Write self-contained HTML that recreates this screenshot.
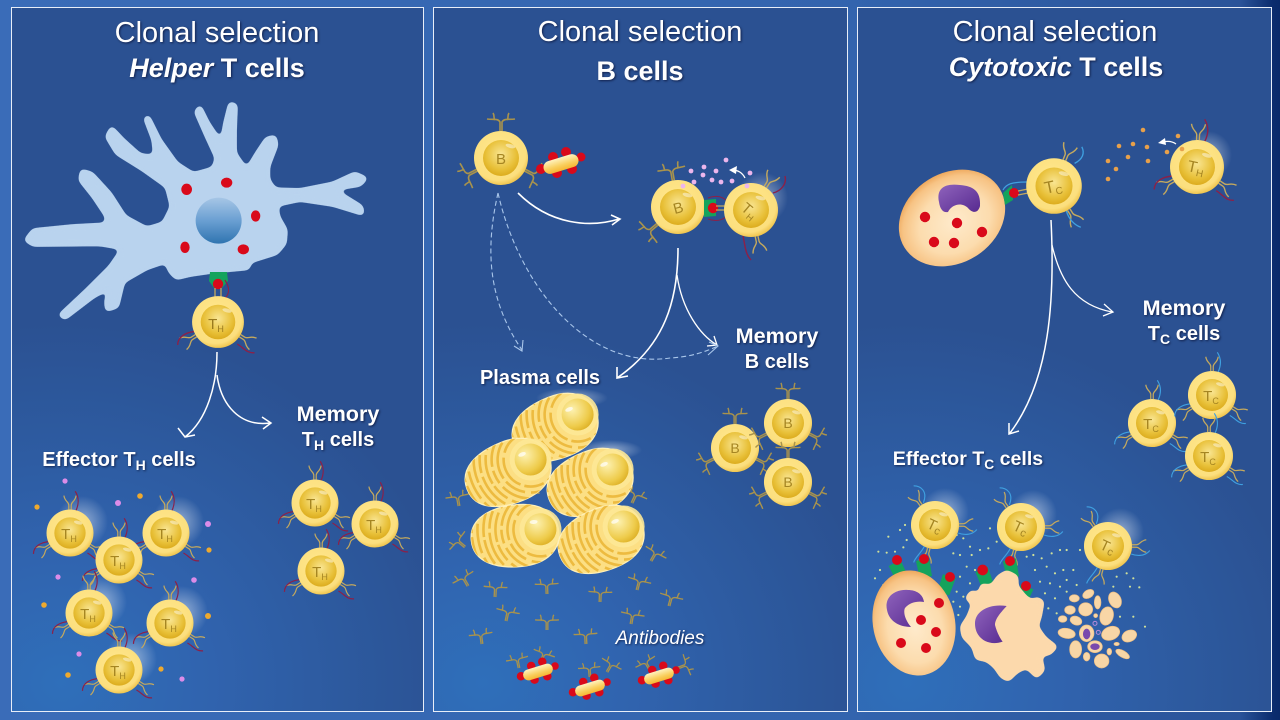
<!DOCTYPE html>
<html><head><meta charset="utf-8"><style>
html,body{margin:0;padding:0}
body{width:1280px;height:720px;position:relative;overflow:hidden;background:linear-gradient(to right,#3a6cb8 0,#3364ae 850px,#2a5399 1240px,#0b2c6e 1273px,#0a2a6a 1280px);font-family:"Liberation Sans",sans-serif;color:#fff}
.p{position:absolute;top:7px;height:705px;box-sizing:border-box;border:1px solid #e8eef8;background:radial-gradient(ellipse 400px 360px at 12% 96%,#2f6fba 0,#3063ae 38%,#2d5a9f 70%,#2b5192 100%)}
svg{position:absolute;left:0;top:0}
.t{position:absolute;white-space:nowrap;transform:translateX(-50%);text-shadow:1px 1px 2px rgba(0,0,30,.6);line-height:1}
.h{font-size:29px}
.b{font-size:27px;font-weight:bold}
.l{font-size:20px;font-weight:bold}
.m{font-size:21.6px;font-weight:bold}
sub{font-size:.7em;line-height:0;vertical-align:-.3em}
</style></head><body>
<div class="p" style="left:11px;width:413px"></div>
<div class="p" style="left:433px;width:415px"></div>
<div class="p" style="left:857px;width:415px"></div>
<svg width="1280" height="720" viewBox="0 0 1280 720">
<defs>
<filter id="goo" x="-5%" y="-5%" width="110%" height="110%" color-interpolation-filters="sRGB"><feGaussianBlur stdDeviation="8"/><feComponentTransfer><feFuncA type="linear" slope="12" intercept="-5"/></feComponentTransfer></filter>
<radialGradient id="go" cx=".45" cy=".4" r=".6"><stop offset="0" stop-color="#ffe88f"/><stop offset=".85" stop-color="#fcdf7e"/><stop offset="1" stop-color="#f0c650"/></radialGradient>
<radialGradient id="gi" cx=".5" cy=".4" r=".6"><stop offset="0" stop-color="#f9e592"/><stop offset=".7" stop-color="#e8c038"/><stop offset="1" stop-color="#dcac1e"/></radialGradient>
<radialGradient id="gn" cx=".4" cy=".3" r=".75"><stop offset="0" stop-color="#fdf1b0"/><stop offset=".7" stop-color="#eecb4a"/><stop offset="1" stop-color="#dcae22"/></radialGradient>
<radialGradient id="gl"><stop offset="0" stop-color="#fff" stop-opacity=".5"/><stop offset="1" stop-color="#fff" stop-opacity="0"/></radialGradient>
<linearGradient id="nu" x1="0" y1="0" x2="0" y2="1"><stop offset="0" stop-color="#a6c6e6"/><stop offset=".5" stop-color="#6a9fd2"/><stop offset="1" stop-color="#2f74b0"/></linearGradient>
<radialGradient id="tg" cx=".5" cy=".55" r=".55"><stop offset="0" stop-color="#feeacb"/><stop offset=".6" stop-color="#fcdcae"/><stop offset=".88" stop-color="#f7c384"/><stop offset="1" stop-color="#eea85c"/></radialGradient>
<linearGradient id="pu" x1="0" y1="0" x2="1" y2="1"><stop offset="0" stop-color="#8f63bc"/><stop offset="1" stop-color="#572a90"/></linearGradient>
<linearGradient id="cap" x1="0" y1="0" x2="0" y2="1"><stop offset="0" stop-color="#fff3c0"/><stop offset=".6" stop-color="#f9cf5e"/><stop offset="1" stop-color="#f7b733"/></linearGradient>
<clipPath id="plc"><path d="M-44 0C-44-22-22-31 4-31C30-31 44-18 44 0C44 18 30 31 4 31C-22 31-44 22-44 0Z"/></clipPath>

<g id="cell"><circle r="27" fill="url(#go)"/><circle r="18" fill="url(#gi)"/><ellipse cx="6" cy="-14" rx="5" ry="2" fill="#fff" opacity=".45" transform="rotate(15)"/></g>
<path id="r" d="M-1.4 0V-5C-1.4-9-6-9-7-16M1.4 0V-5C1.4-9 6-9 7-16" fill="none" stroke="#c4a95e" stroke-width="1.4"/>
<path id="ab" d="M-1 0V-9C-3-13-8-11-14-12M-6-11C-8-13-6-15-8-18M1 0V-9C3-13 8-11 14-12M6-11C8-13 6-15 8-18" fill="none" stroke="#a9934c" stroke-width="1.6"/>
<g id="th">
<use href="#r" transform="rotate(0) translate(0,-27)"/><use href="#r" transform="rotate(-122) translate(0,-27)"/><use href="#r" transform="rotate(122) translate(0,-27)"/>
<path d="M7-26C10-33 11-40 6-48M-25 10C-33 11-42 15-42 24M20 23C26 26 30 33 38 32" fill="none" stroke="#8c2048" stroke-width="1.4"/>
<use href="#cell"/></g>
<g id="tm">
<use href="#r" transform="rotate(0) translate(0,-27)"/><use href="#r" transform="rotate(-122) translate(0,-27)"/><use href="#r" transform="rotate(122) translate(0,-27)"/>
<path d="M7-26C10-33 11-40 6-48M-25 10C-33 11-42 15-42 24M20 23C26 26 30 33 38 32" fill="none" stroke="#3fa0e0" stroke-width="1.3"/>
<use href="#cell"/></g>
<g id="tc">
<use href="#r" transform="rotate(-35) translate(0,-27)"/><use href="#r" transform="rotate(90) translate(0,-27)"/><use href="#r" transform="rotate(195) translate(0,-27)"/>
<path d="M-13-25C-8-38-16-44-24-44M26 9C34 12 42 11 47 5M-12 24C-16 32-22 36-24 42" fill="none" stroke="#3fa0e0" stroke-width="1.3"/>
<use href="#cell"/></g>
<g id="b"><use href="#ab" transform="rotate(0) translate(0,-27)"/><use href="#ab" transform="rotate(-117) translate(0,-27)"/><use href="#ab" transform="rotate(117) translate(0,-27)"/><use href="#cell"/></g>
<g id="bac">
<g fill="#d9091a"><circle cx="-8" cy="-7" r="5"/><circle cx="5" cy="-12" r="5"/><circle cx="20" cy="-7" r="4.5"/><circle cx="11" cy="5" r="5"/><circle cx="-4" cy="9" r="5"/><circle cx="-20" cy="5" r="5"/></g>
<rect x="-18" y="-6.5" width="36" height="13" rx="6.5" fill="url(#cap)" transform="rotate(-17)"/></g>
<g id="pl">
<path d="M-44 0C-44-22-22-31 4-31C30-31 44-18 44 0C44 18 30 31 4 31C-22 31-44 22-44 0Z" fill="#fcdf84" stroke="#fff0b8" stroke-width="1.2"/>
<g fill="none" stroke="#edbb40" stroke-width="2.6" clip-path="url(#plc)">
<circle cx="26" cy="-4" r="27" stroke-dasharray="34 5 20 4"/>
<circle cx="26" cy="-4" r="33" stroke-dasharray="22 4 38 6"/>
<circle cx="26" cy="-4" r="39" stroke-dasharray="42 5 14 4"/>
<circle cx="26" cy="-4" r="45" stroke-dasharray="18 3 30 5"/>
<circle cx="26" cy="-4" r="51" stroke-dasharray="36 4 18 5"/>
<circle cx="26" cy="-4" r="57" stroke-dasharray="26 4 26 3"/>
<circle cx="26" cy="-4" r="63" stroke-dasharray="30 5 20 5"/>
<circle cx="26" cy="-4" r="69" stroke-dasharray="16 5 30 4"/>
</g>
<circle cx="26" cy="-4" r="21" fill="#fde896" opacity=".9"/><circle cx="26" cy="-4" r="16" fill="url(#gn)"/>
<ellipse cx="20" cy="-12" rx="4" ry="2" fill="#fff" opacity=".7"/></g>
<path id="g" d="M-7-6L6-9L9 9L-3 13Z" fill="#14a35c"/>
</defs>

<!-- PANEL 1 -->
<g transform="translate(0,90) scale(.3333)">
<polygon filter="url(#goo)" points="320,140 335,113 370,150 420,195 465,200 460,150 435,85 445,80 480,150 530,220 580,252 640,235 650,205 620,140 587,65 600,50 625,100 665,160 675,100 690,40 708,45 705,120 705,190 740,240 770,190 800,145 825,140 830,165 805,230 805,270 825,298 900,300 1000,280 1065,250 1098,265 1080,285 1015,295 1020,310 1085,350 1088,372 1000,345 900,330 830,345 835,380 858,420 855,460 830,490 750,515 745,535 640,545 570,555 530,565 510,545 498,515 440,535 370,575 352,650 320,660 318,630 335,590 280,620 195,685 180,675 260,600 330,530 368,475 300,463 100,465 77,450 100,420 220,408 320,403 320,380 280,320 240,270 245,242 275,250 330,310 375,380 440,415 490,400 515,350 500,290 430,240 350,190" fill="#b9d3ee" stroke="#b9d3ee" stroke-width="10" stroke-linejoin="round"/>
<circle cx="656" cy="392" r="69" fill="url(#nu)"/>
<g fill="#d9091a"><ellipse cx="560" cy="298" rx="16" ry="17"/><ellipse cx="680" cy="278" rx="17" ry="15"/><ellipse cx="767" cy="378" rx="14" ry="17"/><ellipse cx="555" cy="472" rx="14" ry="17"/><ellipse cx="730" cy="478" rx="17" ry="15"/></g>
</g>
<path d="M210 272H227L228 281L222 288L214 288L209 281Z" fill="#14a35c"/>
<circle cx="218" cy="284" r="5.2" fill="#d9091a"/>
<path d="M215 288V297M221 288V297" stroke="#c4a95e" stroke-width="1.3"/>
<path d="M225 280C230 288 230 294 224 299" fill="none" stroke="#8c2048" stroke-width="1.2"/>
<g transform="translate(218,322) scale(.96)"><use href="#r" transform="rotate(-122) translate(0,-27)"/><use href="#r" transform="rotate(122) translate(0,-27)"/>
<path d="M-25 10C-33 11-42 15-42 24M20 23C26 26 30 33 38 32" fill="none" stroke="#8c2048" stroke-width="1.4"/><use href="#cell"/></g>
<text x="216" y="329" font-size="15" fill="#9a7a1e" text-anchor="middle" font-family="Liberation Sans">T<tspan dy="3" font-size="9">H</tspan></text>

<g fill="none" stroke="#fff" stroke-width="1.5">
<path d="M217 352C217 385 207 420 185 437M178 428L185 437L195 435"/>
<path d="M217 375C221 405 240 427 270 423M262 417L271 423L263 429"/>
</g>

<!-- effector TH -->
<g fill="url(#gl)"><circle cx="82" cy="522" r="26"/><circle cx="178" cy="522" r="26"/><circle cx="101" cy="602" r="26"/><circle cx="182" cy="612" r="26"/><circle cx="131" cy="659" r="26"/></g>
<use href="#th" transform="translate(70,533) scale(.87)"/>
<use href="#th" transform="translate(166,533) scale(.87)"/>
<use href="#th" transform="translate(119,560) scale(.87)"/>
<use href="#th" transform="translate(89,613) scale(.87)"/>
<use href="#th" transform="translate(170,623) scale(.87)"/>
<use href="#th" transform="translate(119,670) scale(.87)"/>
<use href="#th" transform="translate(315,503) scale(.87)"/>
<use href="#th" transform="translate(375,524) scale(.87)"/>
<use href="#th" transform="translate(321,571) scale(.87)"/>
<g font-size="15" fill="#a58522" text-anchor="middle" font-family="Liberation Sans">
<text x="69" y="539">T<tspan dy="3" font-size="9">H</tspan></text>
<text x="165" y="539">T<tspan dy="3" font-size="9">H</tspan></text>
<text x="118" y="566">T<tspan dy="3" font-size="9">H</tspan></text>
<text x="88" y="619">T<tspan dy="3" font-size="9">H</tspan></text>
<text x="169" y="629">T<tspan dy="3" font-size="9">H</tspan></text>
<text x="118" y="676">T<tspan dy="3" font-size="9">H</tspan></text>
<text x="314" y="509">T<tspan dy="3" font-size="9">H</tspan></text>
<text x="374" y="530">T<tspan dy="3" font-size="9">H</tspan></text>
<text x="320" y="577">T<tspan dy="3" font-size="9">H</tspan></text>
</g>
<g fill="#dc8ce8"><circle cx="65" cy="481" r="2.6"/><circle cx="118" cy="503" r="3"/><circle cx="208" cy="524" r="3"/><circle cx="58" cy="577" r="2.6"/><circle cx="194" cy="580" r="2.8"/><circle cx="79" cy="654" r="2.6"/><circle cx="182" cy="679" r="2.6"/></g>
<g fill="#eea92e"><circle cx="37" cy="507" r="2.6"/><circle cx="140" cy="496" r="2.8"/><circle cx="209" cy="550" r="2.6"/><circle cx="44" cy="605" r="2.8"/><circle cx="208" cy="616" r="3"/><circle cx="68" cy="675" r="2.8"/><circle cx="161" cy="669" r="2.6"/></g>

<!-- PANEL 2 -->
<use href="#b" transform="translate(501,158)"/>
<use href="#bac" transform="translate(561,164)"/>
<g transform="translate(678,207)"><use href="#ab" transform="rotate(-10) translate(0,-27)"/><use href="#ab" transform="rotate(-130) translate(0,-27)"/><use href="#cell"/></g>
<path d="M704 200L716 199L716 216L704 217Z" fill="#14a35c"/>
<path d="M708 198C716 195 722 196 727 201M708 219C716 222 722 220 726 217" fill="none" stroke="#8c2048" stroke-width="1"/>
<circle cx="713" cy="208" r="5.2" fill="#d9091a"/>
<path d="M716 206H726M716 210H726" stroke="#c4a95e" stroke-width="1.3"/>
<circle cx="762" cy="198" r="26" fill="url(#gl)"/>
<g transform="translate(751,210)"><use href="#r" transform="rotate(32) translate(0,-27)"/><use href="#r" transform="rotate(168) translate(0,-27)"/>
<path d="M22-17C30-19 36-26 34-34M-8 26C-6 34-6 44 0 50" fill="none" stroke="#8c2048" stroke-width="1.4"/><use href="#cell"/></g>
<text x="678" y="213" font-size="15" fill="#a58522" text-anchor="middle" transform="rotate(-15 678 207)" font-family="Liberation Sans">B</text>
<text x="750" y="216" font-size="15" fill="#a58522" text-anchor="middle" transform="rotate(40 750 210)" font-family="Liberation Sans">T<tspan dy="3" font-size="9">H</tspan></text>
<text x="501" y="164" font-size="15" fill="#a58522" text-anchor="middle" font-family="Liberation Sans">B</text>
<g fill="#ecb6ec"><circle cx="683" cy="186" r="2.4"/><circle cx="694" cy="182" r="2.4"/><circle cx="691" cy="171" r="2.4"/><circle cx="704" cy="167" r="2.4"/><circle cx="703" cy="175" r="2.4"/><circle cx="716" cy="171" r="2.4"/><circle cx="712" cy="180" r="2.4"/><circle cx="721" cy="182" r="2.4"/><circle cx="732" cy="181" r="2.4"/><circle cx="726" cy="160" r="2.4"/><circle cx="750" cy="173" r="2.4"/><circle cx="747" cy="186" r="2.4"/></g>
<path d="M745 178C742 172 737 170 732 170" fill="none" stroke="#fff" stroke-width="1.3"/><path d="M729 170L737 166L736 174Z" fill="#fff"/>
<g fill="none" stroke="#fff" stroke-width="1.6">
<path d="M518 193C550 225 590 228 619 219M611 215L620 219L612 225"/>
<path d="M678 248C678 300 665 345 617 378M617 367L617 378L628 376"/>
<path d="M677 275C682 310 700 335 717 345M714 336L717 345L707 346" stroke-width="1.3"/>
</g>
<g fill="none" stroke="#a9c6ea" stroke-width="1.1">
<path d="M498 193C485 250 488 300 522 350" stroke-dasharray="5 3"/><path d="M523 340L522 351L514 346"/>
<path d="M498 193C520 290 590 370 670 358C690 357 705 352 718 346" stroke-dasharray="5 3"/><path d="M708 355L718 346L709 342"/>
</g>

<!-- plasma -->
<ellipse cx="572" cy="398" rx="36" ry="10" fill="url(#gl)"/>
<ellipse cx="610" cy="450" rx="32" ry="10" fill="url(#gl)"/>
<use href="#ab" transform="translate(538,494) rotate(-5) scale(.85)"/>
<use href="#ab" transform="translate(459,506) rotate(-10) scale(.85)"/>
<use href="#ab" transform="translate(632,503) rotate(25) scale(.85)"/>
<use href="#pl" transform="translate(555,428) rotate(-22)"/>
<use href="#pl" transform="translate(508,473) rotate(-22)"/>
<use href="#pl" transform="translate(590,483) rotate(-22)"/>
<use href="#pl" transform="translate(515,536) rotate(-6)"/>
<use href="#pl" transform="translate(601,540) rotate(-22)"/>
<g>
<use href="#ab" transform="translate(465,547) rotate(-50) scale(.85)"/>
<use href="#ab" transform="translate(651,561) rotate(30) scale(.85)"/>
<use href="#ab" transform="translate(468,586) rotate(-30) scale(.85)"/>
<use href="#ab" transform="translate(495,597) rotate(3) scale(.85)"/>
<use href="#ab" transform="translate(547,594) rotate(-2) scale(.85)"/>
<use href="#ab" transform="translate(600,602) rotate(2) scale(.85)"/>
<use href="#ab" transform="translate(637,590) rotate(15) scale(.85)"/>
<use href="#ab" transform="translate(669,606) rotate(15) scale(.85)"/>
<use href="#ab" transform="translate(506,621) rotate(12) scale(.85)"/>
<use href="#ab" transform="translate(547,630) rotate(0) scale(.85)"/>
<use href="#ab" transform="translate(631,624) rotate(10) scale(.85)"/>
<use href="#ab" transform="translate(482,644) rotate(-8) scale(.85)"/>
<use href="#ab" transform="translate(586,644) rotate(-3) scale(.85)"/>
<use href="#ab" transform="translate(519,668) rotate(-12) scale(.8)"/>
<use href="#ab" transform="translate(541,662) rotate(20) scale(.8)"/>
<use href="#ab" transform="translate(590,677) rotate(-5) scale(.8)"/>
<use href="#ab" transform="translate(607,672) rotate(30) scale(.8)"/>
<use href="#ab" transform="translate(650,670) rotate(-30) scale(.8)"/>
<use href="#ab" transform="translate(678,668) rotate(70) scale(.8)"/>
</g>
<use href="#bac" transform="translate(538,672) scale(.85)"/>
<use href="#bac" transform="translate(590,688) scale(.85)"/>
<use href="#bac" transform="translate(659,676) scale(.85)"/>

<!-- memory B -->
<use href="#b" transform="translate(735,448) scale(.89)"/>
<use href="#b" transform="translate(788,423) scale(.89)"/>
<use href="#b" transform="translate(788,482) scale(.89)"/>
<g font-size="14" fill="#a58522" text-anchor="middle" font-family="Liberation Sans">
<text x="735" y="453">B</text><text x="788" y="428">B</text><text x="788" y="487">B</text></g>

<!-- PANEL 3 -->
<g transform="rotate(-32 952 218)"><ellipse cx="952" cy="218" rx="56" ry="45" fill="url(#tg)"/></g>
<path d="M939 202C936 188 945 183 960 185C973 186 981 191 980 206C978 214 972 213 968 208C962 202 952 204 948 212C943 213 940 209 939 202Z" fill="url(#pu)"/>
<g fill="#d9091a"><circle cx="925" cy="217" r="5.2"/><circle cx="957" cy="223" r="5.2"/><circle cx="982" cy="232" r="5.2"/><circle cx="934" cy="242" r="5.2"/><circle cx="954" cy="243" r="5.2"/></g>
<path d="M1003 193L1012 185L1013 200L1005 205Z" fill="#14a35c"/>
<path d="M1003 190C1006 184 1012 182 1027 182" fill="none" stroke="#3fa0e0" stroke-width="1.2"/>
<circle cx="1014" cy="193" r="5" fill="#d9091a"/>
<path d="M1018 191L1028 189M1018 195L1028 193" stroke="#c4a95e" stroke-width="1.3"/>
<g transform="translate(1054,186) scale(1.03)"><use href="#r" transform="rotate(22) translate(0,-27)"/><use href="#r" transform="rotate(148) translate(0,-27)"/>
<path d="M20-22C28-26 30-32 27-38M12 24C14 32 20 38 26 40" fill="none" stroke="#3fa0e0" stroke-width="1.3"/><use href="#cell"/></g>
<text x="1053" y="192" font-size="17" fill="#a58522" text-anchor="middle" transform="rotate(-12 1054 186)" font-family="Liberation Sans">T<tspan dy="3" font-size="10">C</tspan></text>
<circle cx="1208" cy="155" r="24" fill="url(#gl)"/>
<use href="#th" transform="translate(1197,167) rotate(2)"/>
<text x="1196" y="173" font-size="16" fill="#a58522" text-anchor="middle" transform="rotate(12 1197 167)" font-family="Liberation Sans">T<tspan dy="3" font-size="10">H</tspan></text>
<g fill="#e8a04a"><circle cx="1143" cy="130" r="2.3"/><circle cx="1178" cy="136" r="2.3"/><circle cx="1119" cy="146" r="2.3"/><circle cx="1133" cy="144" r="2.3"/><circle cx="1147" cy="147" r="2.3"/><circle cx="1167" cy="152" r="2.3"/><circle cx="1182" cy="149" r="2.3"/><circle cx="1128" cy="157" r="2.3"/><circle cx="1148" cy="161" r="2.3"/><circle cx="1108" cy="161" r="2.3"/><circle cx="1116" cy="169" r="2.3"/><circle cx="1108" cy="179" r="2.3"/></g>
<path d="M1176 144C1172 141 1167 141 1163 142" fill="none" stroke="#fff" stroke-width="1.2"/><path d="M1158 143L1165 138L1166 145Z" fill="#fff"/>
<g fill="none" stroke="#fff" stroke-width="1.5">
<path d="M1051 220C1055 300 1050 380 1010 433M1009 423L1009 434L1019 431"/>
<path d="M1052 245C1060 280 1075 305 1112 312M1104 304L1113 312L1103 316" stroke-width="1.3"/>
</g>
<use href="#tm" transform="translate(1152,423) scale(.89)"/>
<use href="#tm" transform="translate(1212,395) scale(.89)"/>
<use href="#tm" transform="translate(1209,456) scale(.89)"/>
<g font-size="15" fill="#a58522" text-anchor="middle" font-family="Liberation Sans">
<text x="1151" y="429">T<tspan dy="3" font-size="9">C</tspan></text>
<text x="1211" y="401">T<tspan dy="3" font-size="9">C</tspan></text>
<text x="1208" y="462">T<tspan dy="3" font-size="9">C</tspan></text></g>

<!-- effector Tc -->
<g fill="url(#gl)"><circle cx="945" cy="512" r="24"/><circle cx="1033" cy="514" r="24"/><circle cx="1120" cy="532" r="24"/></g>
<path fill="none" stroke="#cfe09a" stroke-width="6.5" stroke-linecap="round" transform="translate(860,470) scale(.3333)" d="M135 165h.1M120 180h.1M85 200h.1M140 210h.1M55 245h.1M80 248h.1M105 245h.1M130 232h.1M60 300h.1M45 325h.1M70 345h.1M290 195h.1M310 205h.1M330 230h.1M280 250h.1M300 255h.1M335 255h.1M360 240h.1M385 235h.1M410 215h.1M390 175h.1M320 290h.1M345 300h.1M300 320h.1M330 340h.1M290 365h.1M310 380h.1M280 395h.1M300 410h.1M295 435h.1M520 255h.1M545 265h.1M575 250h.1M600 240h.1M525 300h.1M560 290h.1M585 310h.1M610 300h.1M640 300h.1M620 240h.1M660 240h.1M540 335h.1M570 340h.1M600 350h.1M555 370h.1M585 385h.1M620 330h.1M650 345h.1M565 415h.1M590 430h.1M770 320h.1M800 310h.1M820 325h.1M760 350h.1M810 350h.1M838 352h.1M620 365h.1M780 440h.1M820 440h.1M855 470h.1M445 205h.1M470 240h.1M500 260h.1"/>
<use href="#tc" transform="translate(935,525) scale(.89)"/>
<use href="#tc" transform="translate(1021,527) scale(.89)"/>
<use href="#tc" transform="translate(1108,546) scale(.89)"/>
<g font-size="15" fill="#a58522" text-anchor="middle" font-family="Liberation Sans">
<text x="935" y="531" transform="rotate(25 935 525)">T<tspan dy="2" font-size="11">c</tspan></text>
<text x="1021" y="533" transform="rotate(25 1021 527)">T<tspan dy="2" font-size="11">c</tspan></text>
<text x="1108" y="552" transform="rotate(25 1108 546)">T<tspan dy="2" font-size="11">c</tspan></text></g>
<use href="#g" transform="translate(897,570) rotate(-15)"/><use href="#g" transform="translate(923,567)"/><use href="#g" transform="translate(946,583) rotate(30)"/>
<g transform="rotate(-12 914 623)"><ellipse cx="914" cy="623" rx="41" ry="53" fill="url(#tg)"/></g>
<g fill="#d9091a"><circle cx="897" cy="560" r="5"/><circle cx="924" cy="559" r="5"/><circle cx="950" cy="577" r="5"/>
<circle cx="939" cy="603" r="5"/><circle cx="921" cy="620" r="5"/><circle cx="936" cy="632" r="5"/><circle cx="901" cy="643" r="5"/><circle cx="926" cy="648" r="5"/></g>
<path d="M887 610C884 597 895 589 908 590C916 590 923 594 924 602C918 601 910 602 905 608C903 612 905 620 911 627C899 627 889 621 887 610Z" fill="url(#pu)"/>
<g transform="translate(860,470) scale(.3333)">
<use href="#g" transform="translate(370,320) scale(3) rotate(-10)"/><use href="#g" transform="translate(450,292) scale(3)"/><use href="#g" transform="translate(490,370) scale(3) rotate(35)"/>
<polygon filter="url(#goo)" points="415,320 440,305 470,320 470,350 500,385 520,395 530,385 548,395 540,440 530,470 555,505 588,530 570,550 540,555 550,600 530,620 500,590 470,605 445,630 425,620 405,590 380,570 350,565 340,530 310,500 305,470 325,440 340,400 320,385 335,365 360,375 365,345 395,350" fill="#fcd9ac" stroke="#fcd9ac" stroke-width="10" stroke-linejoin="round"/>
<path d="M345 460C345 425 385 400 440 408C425 425 405 445 405 465C410 485 420 505 428 515C385 530 345 505 345 460Z" fill="url(#pu)"/>
<g fill="#d9091a"><circle cx="368" cy="300" r="16"/><circle cx="450" cy="273" r="15"/><circle cx="498" cy="348" r="15"/></g>
<g fill="#f8d6a6" stroke="#efbe80" stroke-width="2">
<ellipse cx="643" cy="385" rx="15" ry="11"/><ellipse cx="685" cy="372" rx="18" ry="12" transform="rotate(-30 685 372)"/><ellipse cx="765" cy="390" rx="18" ry="25" transform="rotate(-25 765 390)"/><ellipse cx="630" cy="420" rx="16" ry="13"/><ellipse cx="677" cy="418" rx="21" ry="20"/><ellipse cx="713" cy="397" rx="10" ry="20"/><ellipse cx="740" cy="438" rx="20" ry="28" transform="rotate(15 740 438)"/><ellipse cx="608" cy="447" rx="13" ry="10"/><ellipse cx="648" cy="452" rx="18" ry="13" transform="rotate(20 648 452)"/><ellipse cx="707" cy="437" rx="6" ry="6"/><ellipse cx="620" cy="490" rx="26" ry="15" transform="rotate(10 620 490)"/><ellipse cx="680" cy="490" rx="22" ry="25"/><ellipse cx="752" cy="490" rx="28" ry="20" transform="rotate(-20 752 490)"/><ellipse cx="808" cy="498" rx="23" ry="17" transform="rotate(-25 808 498)"/><ellipse cx="647" cy="538" rx="18" ry="26"/><ellipse cx="705" cy="530" rx="22" ry="18"/><ellipse cx="770" cy="522" rx="8" ry="5"/><ellipse cx="748" cy="545" rx="7" ry="10"/><ellipse cx="788" cy="552" rx="23" ry="10" transform="rotate(30 788 552)"/><ellipse cx="680" cy="560" rx="10" ry="13"/><ellipse cx="725" cy="573" rx="22" ry="21"/></g>
<ellipse cx="680" cy="492" rx="11" ry="16" fill="#7a49ad"/><ellipse cx="705" cy="530" rx="14" ry="10" fill="#7a49ad"/>
<g fill="none" stroke="#b58ad8" stroke-width="3"><circle cx="705" cy="460" r="6"/><circle cx="715" cy="487" r="6"/></g>
</g>
</svg>
<div class="t h" style="left:217px;top:19px">Clonal selection</div>
<div class="t b" style="left:217px;top:55px"><i>Helper</i> T cells</div>
<div class="t h" style="left:640px;top:18px">Clonal selection</div>
<div class="t b" style="left:640px;top:58px">B cells</div>
<div class="t h" style="left:1055px;top:18px">Clonal selection</div>
<div class="t b" style="left:1056px;top:54px"><i>Cytotoxic</i> T cells</div>
<div class="t l" style="left:119px;top:450px">Effector T<sub>H</sub> cells</div>
<div class="t m" style="left:338px;top:403px">Memory</div>
<div class="t l" style="left:338px;top:430px">T<sub>H</sub> cells</div>
<div class="t l" style="left:540px;top:368px">Plasma cells</div>
<div class="t m" style="left:777px;top:325px">Memory</div>
<div class="t l" style="left:777px;top:352px">B cells</div>
<div class="t m" style="left:1184px;top:297px">Memory</div>
<div class="t l" style="left:1184px;top:324px">T<sub>C</sub> cells</div>
<div class="t l" style="left:968px;top:450px;font-size:19.6px">Effector T<sub>C</sub> cells</div>
<div class="t" style="left:660px;top:629px;font-size:19px;font-style:italic">Antibodies</div>
</body></html>
